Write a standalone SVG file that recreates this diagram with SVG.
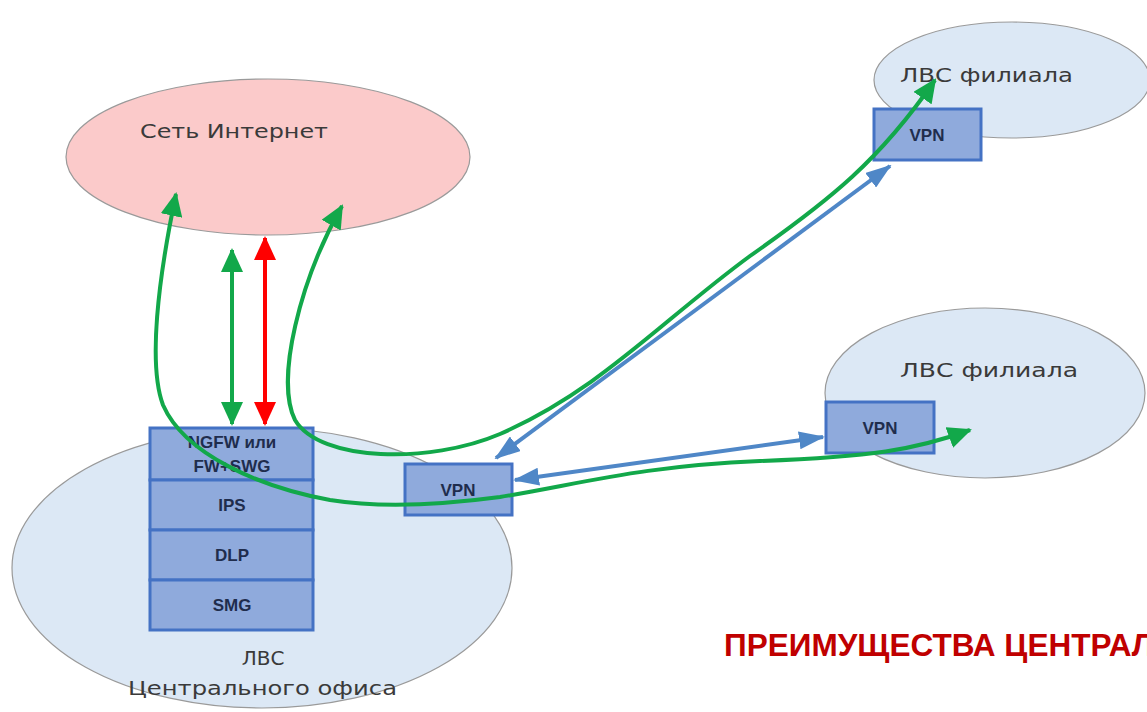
<svg xmlns="http://www.w3.org/2000/svg" width="1147" height="712" viewBox="0 0 1147 712">
  <style>
    .cloud { stroke: #9a9a9a; stroke-width: 1.2; }
    .net { fill: #fbcaca; }
    .lan { fill: #dce8f5; }
    .lbl { font-family: "DejaVu Sans", "Liberation Sans", sans-serif; font-size: 20px; fill: #3a3a3a; }
    .box { fill: #8faadc; stroke: #4472c4; stroke-width: 3; }
    .boxtxt { font-family: "Liberation Sans", "DejaVu Sans", sans-serif; font-size: 17px; font-weight: bold; fill: #1f2d4d; text-anchor: middle; }
    .green { fill: none; stroke: #12a84a; stroke-width: 4; }
    .red { fill: none; stroke: #ff0000; stroke-width: 4; }
    .blue { fill: none; stroke: #4f87c7; stroke-width: 4; }
    .title { font-family: "Liberation Sans", "Open Sans", sans-serif; font-size: 31px; font-weight: bold; fill: #c00000; }
  </style>
  <defs>
    <marker id="headGreen" markerUnits="userSpaceOnUse" markerWidth="24" markerHeight="22" refX="22" refY="11" orient="auto-start-reverse">
      <path d="M0,0 L24,11 L0,22 z" fill="#12a84a"/>
    </marker>
    <marker id="headRed" markerUnits="userSpaceOnUse" markerWidth="24" markerHeight="22" refX="22" refY="11" orient="auto-start-reverse">
      <path d="M0,0 L24,11 L0,22 z" fill="#ff0000"/>
    </marker>
    <marker id="headBlue" markerUnits="userSpaceOnUse" markerWidth="26" markerHeight="18" refX="24" refY="9" orient="auto-start-reverse">
      <path d="M0,0 L26,9 L0,18 z" fill="#4f87c7"/>
    </marker>
  </defs>

  <rect width="1147" height="712" fill="#ffffff"/>

  <!-- Internet cloud -->
  <g id="internet">
    <ellipse class="cloud net" cx="268" cy="157" rx="202" ry="78"/>
    <text class="lbl" x="140" y="138" textLength="188" lengthAdjust="spacingAndGlyphs">Сеть Интернет</text>
  </g>

  <!-- Central office LAN -->
  <g id="lan-central">
    <ellipse class="cloud lan" cx="262" cy="568" rx="250" ry="140"/>
    <text class="lbl" x="263" y="665" text-anchor="middle">ЛВС</text>
    <text class="lbl" x="128" y="695" textLength="269" lengthAdjust="spacingAndGlyphs">Центрального офиса</text>
  </g>

  <!-- Branch LANs -->
  <g id="lan-branch-1">
    <ellipse class="cloud lan" cx="1012" cy="80" rx="138" ry="58"/>
    <text class="lbl" x="900" y="82" textLength="173" lengthAdjust="spacingAndGlyphs">ЛВС филиала</text>
  </g>
  <g id="lan-branch-2">
    <ellipse class="cloud lan" cx="985" cy="393" rx="160" ry="85"/>
    <text class="lbl" x="900" y="377" textLength="178" lengthAdjust="spacingAndGlyphs">ЛВС филиала</text>
  </g>

  <!-- Security stack at the central office -->
  <g id="stack">
    <rect class="box" x="150" y="428" width="163" height="52"/>
    <rect class="box" x="150" y="480" width="163" height="50"/>
    <rect class="box" x="150" y="530" width="163" height="50"/>
    <rect class="box" x="150" y="580" width="163" height="50"/>
    <text class="boxtxt" x="232" y="448">NGFW или</text>
    <text class="boxtxt" x="232" y="472">FW+SWG</text>
    <text class="boxtxt" x="232" y="511">IPS</text>
    <text class="boxtxt" x="232" y="561">DLP</text>
    <text class="boxtxt" x="232" y="611">SMG</text>
  </g>

  <!-- VPN gateways -->
  <g id="vpn-central">
    <rect class="box" x="405" y="464" width="107" height="51"/>
    <text class="boxtxt" x="458" y="496">VPN</text>
  </g>
  <g id="vpn-branch-1">
    <rect class="box" x="874" y="109" width="107" height="51"/>
    <text class="boxtxt" x="927" y="141">VPN</text>
  </g>
  <g id="vpn-branch-2">
    <rect class="box" x="826" y="402" width="108" height="51"/>
    <text class="boxtxt" x="880" y="434">VPN</text>
  </g>

  <!-- Traffic flows -->
  <g id="connectors">
    <line class="green" x1="232" y1="250" x2="232" y2="424" marker-start="url(#headGreen)" marker-end="url(#headGreen)"/>
    <line class="red" x1="265" y1="238" x2="265" y2="424" marker-start="url(#headRed)" marker-end="url(#headRed)"/>
    <line class="blue" x1="496" y1="458" x2="890" y2="166" marker-start="url(#headBlue)" marker-end="url(#headBlue)"/>
    <line class="blue" x1="515" y1="480" x2="823" y2="437" marker-start="url(#headBlue)" marker-end="url(#headBlue)"/>
    <path class="green" d="M176,194 C158,280 148,365 163,405 C185,455 260,487 330,500 C380,508 440,505 500,497 C580,484 640,466 760,461 C870,457 915,450 970,430" marker-start="url(#headGreen)" marker-end="url(#headGreen)"/>
    <path class="green" d="M342,206 C300,280 275,380 295,420 C320,462 430,464 500,434 C600,390 660,322 750,256 C830,200 880,160 935,80" marker-start="url(#headGreen)" marker-end="url(#headGreen)"/>
  </g>

  <text class="title" x="724" y="656" textLength="430" lengthAdjust="spacingAndGlyphs">ПРЕИМУЩЕСТВА ЦЕНТРАЛ</text>
</svg>
